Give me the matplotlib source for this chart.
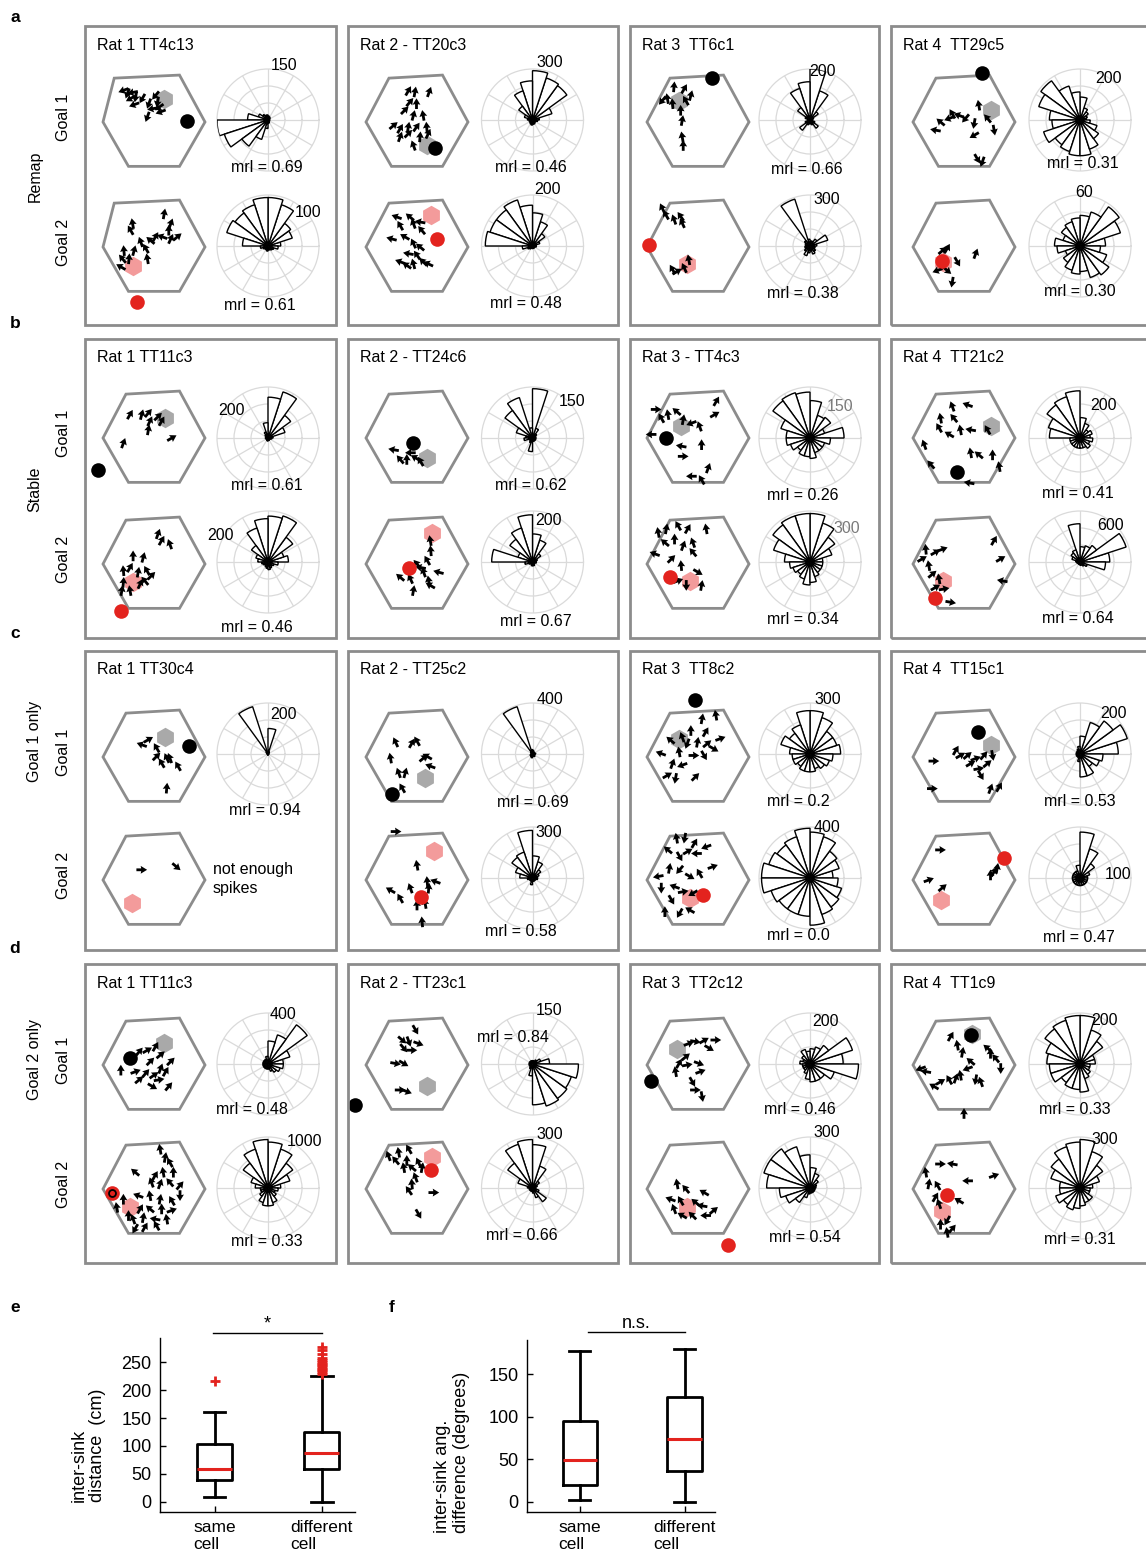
import numpy as np
import matplotlib.pyplot as plt
from matplotlib.patches import Rectangle, Polygon

plt.rcParams['font.family'] = ['Liberation Sans', 'DejaVu Sans']

W, H = 1146, 1560

# ---------------- data ----------------
row_letters = ['a', 'b', 'c', 'd']
row_names = ['Remap', 'Stable', 'Goal 1 only', 'Goal 2 only']
cell_names = [
    ['Rat 1 TT4c13', 'Rat 2 - TT20c3', 'Rat 3  TT6c1', 'Rat 4  TT29c5'],
    ['Rat 1 TT11c3', 'Rat 2 - TT24c6', 'Rat 3 - TT4c3', 'Rat 4  TT21c2'],
    ['Rat 1 TT30c4', 'Rat 2 - TT25c2', 'Rat 3  TT8c2', 'Rat 4  TT15c1'],
    ['Rat 1 TT11c3', 'Rat 2 - TT23c1', 'Rat 3  TT2c12', 'Rat 4  TT1c9'],
]
# mean resultant length, (goal 1, goal 2); None = not enough spikes
mrl = [
    [('0.69', '0.61'), ('0.46', '0.48'), ('0.66', '0.38'), ('0.31', '0.30')],
    [('0.61', '0.46'), ('0.62', '0.67'), ('0.26', '0.34'), ('0.41', '0.64')],
    [('0.94', None), ('0.69', '0.58'), ('0.2', '0.0'), ('0.53', '0.47')],
    [('0.48', '0.33'), ('0.84', '0.66'), ('0.46', '0.54'), ('0.33', '0.31')],
]
# outer ring of each rose plot (spike count)
rose_max = [
    [(150, 100), (300, 200), (200, 300), (200, 60)],
    [(200, 200), (150, 200), (150, 300), (200, 600)],
    [(200, None), (400, 300), (300, 400), (200, 100)],
    [(400, 1000), (150, 300), (200, 300), (200, 300)],
]
# heading histograms, 20 bins of 18 deg starting at 0 deg (east), counter-clockwise
roses = {
    'a1': ([5, 5, 8, 10, 12, 15, 15, 20, 30, 60, 150, 135, 95, 60, 25, 10, 8, 5, 5, 5],
           [25, 50, 55, 85, 95, 95, 85, 80, 85, 50, 15, 10, 8, 8, 10, 8, 8, 10, 12, 20]),
    'a2': ([40, 120, 250, 260, 290, 230, 180, 100, 50, 30, 20, 20, 20, 25, 30, 25, 25, 20, 20, 30],
           [15, 30, 60, 100, 130, 160, 190, 175, 175, 185, 40, 20, 15, 10, 10, 10, 10, 10, 10, 15]),
    'a3': ([10, 15, 40, 120, 200, 150, 130, 60, 20, 10, 10, 20, 50, 20, 15, 15, 20, 40, 20, 10],
           [40, 110, 50, 30, 30, 40, 290, 40, 30, 25, 30, 30, 40, 60, 40, 30, 50, 40, 30, 30]),
    'a4': ([25, 30, 40, 50, 90, 110, 140, 190, 170, 120, 110, 150, 120, 130, 140, 140, 120, 90, 70, 40],
           [30, 50, 57, 42, 36, 33, 30, 27, 21, 30, 27, 18, 24, 30, 33, 30, 39, 42, 33, 24]),
    'b1': ([20, 70, 110, 190, 160, 60, 25, 15, 10, 10, 10, 8, 8, 10, 12, 10, 10, 8, 10, 15],
           [80, 65, 120, 190, 180, 170, 140, 80, 50, 40, 25, 20, 15, 20, 25, 30, 25, 20, 25, 40]),
    'b2': ([10, 10, 15, 30, 145, 30, 125, 100, 50, 20, 25, 10, 10, 15, 40, 10, 10, 10, 10, 10],
           [15, 20, 40, 90, 110, 185, 140, 110, 60, 160, 30, 15, 10, 10, 15, 15, 15, 10, 10, 15]),
    'b3': ([100, 45, 75, 70, 110, 135, 140, 135, 90, 70, 70, 60, 45, 55, 55, 60, 45, 45, 45, 60],
           [75, 135, 180, 240, 285, 285, 285, 270, 225, 150, 120, 105, 90, 105, 135, 120, 90, 75, 75, 75]),
    'b4': ([40, 50, 40, 60, 80, 185, 170, 160, 130, 120, 40, 40, 40, 40, 40, 40, 40, 50, 40, 50],
           [350, 570, 240, 200, 180, 450, 150, 130, 100, 50, 40, 30, 30, 30, 30, 40, 40, 60, 90, 300]),
    'c1': ([3, 3, 5, 10, 100, 10, 195, 10, 5, 3, 3, 3, 3, 3, 5, 3, 3, 3, 3, 3],
           None),
    'c2': ([25, 15, 20, 20, 30, 35, 390, 20, 10, 10, 15, 20, 20, 25, 30, 20, 20, 25, 15, 20],
           [30, 40, 60, 100, 130, 280, 160, 150, 105, 75, 30, 20, 20, 20, 40, 20, 20, 20, 20, 30]),
    'c3': ([180, 165, 165, 225, 255, 255, 180, 150, 180, 120, 105, 105, 90, 105, 105, 105, 90, 105, 120, 135],
           [180, 240, 260, 340, 360, 390, 340, 320, 340, 380, 380, 320, 300, 300, 300, 370, 300, 280, 260, 220]),
    'c4': ([150, 195, 160, 130, 70, 30, 20, 15, 15, 15, 15, 15, 15, 15, 30, 90, 90, 60, 80, 90],
           [15, 20, 35, 60, 90, 25, 15, 15, 15, 15, 15, 15, 15, 15, 15, 15, 15, 15, 15, 15]),
    'd1': ([120, 180, 380, 240, 180, 60, 40, 40, 40, 40, 40, 40, 40, 40, 40, 40, 60, 80, 100, 120],
           [250, 450, 600, 800, 900, 950, 800, 600, 350, 250, 150, 150, 200, 300, 350, 350, 300, 200, 150, 200]),
    'd2': ([50, 25, 15, 10, 10, 10, 10, 10, 10, 10, 10, 10, 10, 15, 35, 120, 130, 125, 120, 135],
           [20, 30, 50, 135, 255, 285, 270, 180, 90, 30, 20, 20, 20, 20, 20, 30, 60, 100, 40, 20]),
    'd3': ([130, 175, 90, 70, 60, 50, 60, 40, 30, 40, 30, 30, 30, 40, 60, 70, 70, 70, 100, 190],
           [35, 40, 60, 90, 120, 195, 255, 285, 285, 255, 180, 150, 105, 60, 35, 30, 30, 30, 30, 30]),
    'd4': ([60, 60, 110, 140, 190, 190, 180, 170, 140, 130, 120, 120, 90, 100, 100, 110, 60, 50, 40, 40],
           [75, 120, 165, 225, 285, 270, 255, 210, 180, 120, 120, 150, 120, 135, 120, 105, 90, 90, 60, 60]),
}
# spike positions in arena units (hex radius = 1) and heading in degrees
spikes = {
    'a1': ([(-0.60, 0.62, 200), (-0.52, 0.56, 250), (-0.42, 0.58, 190), (-0.36, 0.49, 260), (-0.46, 0.46, 210),
            (-0.23, 0.46, 240), (-0.39, 0.34, 200), (-0.10, 0.36, 250), (-0.03, 0.26, 190), (0.07, 0.39, 260),
            (0.10, 0.29, 215), (-0.13, 0.10, 250), (0.13, 0.20, 200), (0.03, 0.52, 230)],
           [(0.20, 0.65, 80), (-0.42, 0.46, 100), (-0.46, 0.33, 120), (0.33, 0.46, 70), (0.29, 0.33, 90),
            (-0.26, 0.10, 110), (-0.07, 0.13, 140), (0.03, 0.20, 60), (0.16, 0.20, 160), (0.46, 0.20, 40),
            (-0.59, -0.07, 95), (-0.62, -0.23, 130), (-0.39, -0.07, 75), (-0.13, -0.23, 100), (-0.65, -0.39, 150),
            (-0.49, -0.23, 85), (-0.16, -0.03, 120), (0.33, 0.16, 65)]),
    'a2': ([(-0.17, 0.61, 60), (-0.04, 0.59, 80), (0.24, 0.59, 70), (-0.14, 0.39, 50), (-0.01, 0.36, 90),
            (-0.24, 0.23, 45), (-0.07, 0.13, 75), (0.12, 0.13, 100), (-0.46, -0.07, 40), (-0.33, -0.13, 60),
            (-0.17, -0.10, 80), (-0.01, -0.10, 55), (0.19, -0.10, 95), (-0.33, -0.29, 70), (-0.17, -0.23, 45),
            (0.06, -0.29, 85), (0.22, -0.23, 65), (-0.07, -0.46, 110)],
           [(-0.40, 0.59, 160), (-0.33, 0.42, 120), (-0.14, 0.59, 140), (-0.07, 0.46, 110), (0.06, 0.49, 170),
            (0.09, 0.33, 130), (-0.50, 0.16, 165), (-0.24, 0.20, 150), (-0.07, 0.07, 115), (0.06, 0.00, 140),
            (-0.17, -0.13, 170), (0.00, -0.16, 125), (-0.33, -0.29, 160), (-0.20, -0.36, 145), (-0.07, -0.33, 105),
            (0.12, -0.29, 135), (0.22, -0.33, 155)]),
    'a3': ([(-0.47, 0.69, 85), (-0.27, 0.65, 60), (-0.60, 0.46, 100), (-0.50, 0.36, 95), (-0.24, 0.42, 120),
            (-0.14, 0.52, 75), (-0.34, 0.23, 90), (-0.31, 0.03, 80), (-0.31, -0.29, 100), (-0.29, -0.46, 90),
            (-0.70, 0.42, 230)],
           [(-0.70, 0.76, 115), (-0.63, 0.63, 120), (-0.47, 0.54, 110), (-0.34, 0.60, 125), (-0.31, 0.47, 115),
            (-0.50, -0.44, 120), (-0.41, -0.48, 30), (-0.27, -0.41, 115), (-0.18, -0.25, 100)]),
    'a4': ([(-0.56, -0.16, 170), (-0.46, 0.00, 140), (-0.29, 0.07, 200), (-0.23, 0.16, 120), (-0.10, 0.13, 160),
            (0.03, 0.07, 230), (0.20, -0.03, 260), (0.29, 0.33, 100), (0.46, 0.07, 130), (0.59, -0.16, 280),
            (0.20, -0.26, 210), (0.26, -0.72, 300), (0.36, -0.78, 250)],
           [(-0.42, -0.07, 40), (-0.33, -0.03, 60), (-0.13, -0.29, 300), (0.23, -0.13, 70), (-0.52, -0.46, 200),
            (-0.33, -0.46, 320), (-0.23, -0.69, 260)]),
    'b1': ([(-0.47, 0.46, 60), (-0.24, 0.46, 75), (-0.11, 0.49, 50), (-0.08, 0.33, 65), (-0.11, 0.16, 80),
            (0.08, 0.42, 45), (0.15, 0.33, 60), (0.35, 0.00, 30), (-0.60, -0.10, 70)],
           [(0.08, 0.59, 70), (0.15, 0.46, 60), (0.31, 0.39, 110), (-0.41, 0.16, 90), (-0.21, 0.13, 75),
            (-0.60, -0.13, 95), (-0.47, -0.07, 60), (-0.31, -0.16, 80), (-0.14, -0.13, 120), (-0.05, -0.23, 45),
            (-0.60, -0.36, 85), (-0.47, -0.52, 100), (-0.27, -0.39, 65), (-0.63, -0.52, 80), (-0.18, -0.33, 130)]),
    'b2': ([(-0.46, -0.23, 170), (-0.33, -0.42, 130), (-0.20, -0.42, 90), (-0.03, -0.39, 150), (0.07, -0.46, 120),
            (-0.13, -0.29, 180)],
           [(0.26, 0.46, 100), (0.27, 0.26, 95), (0.20, 0.07, 120), (0.07, -0.07, 170), (0.00, 0.00, 130),
            (0.13, -0.16, 110), (0.42, -0.16, 165), (-0.33, -0.26, 140), (-0.13, -0.29, 115), (0.23, -0.33, 100),
            (-0.07, -0.52, 80), (0.26, -0.42, 150)]),
    'b3': ([(-0.82, 0.56, 0), (-0.72, 0.39, 120), (-0.59, 0.46, 100), (-0.42, 0.52, 140), (-0.29, 0.36, 80),
            (-0.13, 0.29, 200), (0.03, 0.23, 110), (0.33, 0.46, 30), (0.36, 0.72, 60), (-0.92, 0.07, 180),
            (-0.33, -0.16, 170), (0.07, -0.13, 90), (-0.29, -0.36, 0), (-0.13, -0.75, 180), (0.07, -0.82, 120),
            (0.20, -0.59, 70)],
           [(-0.78, 0.62, 100), (-0.62, 0.69, 80), (-0.39, 0.75, 120), (-0.20, 0.69, 60), (0.16, 0.69, 100),
            (-0.65, 0.42, 140), (-0.46, 0.49, 90), (-0.29, 0.36, 70), (-0.10, 0.42, 110), (-0.85, 0.20, 160),
            (-0.52, 0.10, 45), (-0.33, -0.03, 95), (-0.10, 0.23, 130), (-0.39, -0.33, 20), (-0.23, -0.42, 270),
            (0.07, -0.42, 80), (0.00, -0.16, 330)]),
    'b4': ([(-0.23, 0.62, 110), (0.07, 0.65, 160), (-0.46, 0.39, 100), (-0.20, 0.39, 130), (-0.49, 0.20, 120),
            (-0.29, 0.07, 150), (-0.07, 0.16, 100), (0.13, 0.16, 170), (0.46, 0.16, 120), (-0.78, -0.13, 110),
            (0.13, -0.29, 100), (0.29, -0.33, 140), (0.56, -0.33, 90), (-0.65, -0.52, 130), (0.69, -0.56, 100),
            (0.10, -0.88, 170)],
           [(-0.82, 0.10, 30), (-0.69, -0.03, 100), (-0.56, 0.23, 30), (-0.42, 0.29, 20), (-0.62, -0.20, 40),
            (-0.49, -0.29, 100), (-0.56, -0.46, 30), (-0.39, -0.49, 10), (-0.26, -0.75, 350), (0.59, 0.46, 60),
            (0.72, 0.10, 30), (0.75, -0.33, 170), (-0.75, 0.29, 95)]),
    'c1': ([(-0.24, 0.24, 160), (-0.11, 0.34, 30), (0.05, 0.18, 120), (0.25, -0.02, 115), (0.05, 0.01, 45),
            (0.15, -0.12, 120), (0.31, -0.02, 110), (0.47, -0.18, 120), (0.25, -0.61, 85)],
           [(-0.24, 0.20, 0), (0.44, 0.26, 320)]),
    'c2': ([(-0.42, 0.29, 115), (-0.10, 0.27, 60), (0.00, 0.31, 120), (-0.52, -0.02, 100), (0.20, 0.01, 150),
            (0.13, -0.02, 40), (0.26, -0.18, 160), (-0.36, -0.31, 110), (-0.23, -0.31, 75), (-0.29, -0.61, 120)],
           [(-0.41, 0.95, 0), (0.00, 0.29, 100), (-0.52, -0.20, 150), (-0.33, -0.36, 120), (0.20, -0.03, 95),
            (0.36, -0.03, 160), (0.23, -0.16, 85), (0.16, -0.46, 100), (0.00, -0.49, 90), (0.10, -0.82, 95),
            (-0.13, -0.16, 110)]),
    'c3': ([(0.08, 0.75, 80), (0.35, 0.82, 100), (-0.14, 0.52, 90), (0.15, 0.49, 60), (0.44, 0.36, 20),
            (-0.54, 0.33, 140), (-0.31, 0.39, 110), (-0.21, 0.26, 250), (-0.01, 0.29, 80), (0.18, 0.26, 40),
            (-0.73, 0.07, 160), (-0.37, 0.10, 100), (-0.08, 0.03, 0), (0.12, 0.03, 300), (-0.50, -0.13, 70),
            (-0.31, -0.16, 200), (-0.60, -0.36, 30), (-0.44, -0.42, 260), (-0.05, -0.39, 45), (0.31, 0.16, 330)],
           [(-0.42, 0.82, 100), (-0.26, 0.82, 260), (-0.07, 0.72, 60), (0.16, 0.65, 200), (-0.59, 0.59, 140),
            (-0.36, 0.46, 300), (-0.20, 0.56, 30), (-0.03, 0.52, 180), (0.29, 0.26, 20), (-0.78, 0.07, 190),
            (-0.56, 0.23, 80), (-0.36, 0.20, 230), (-0.16, 0.07, 330), (0.03, 0.13, 120), (-0.72, -0.16, 270),
            (-0.46, -0.13, 160), (-0.29, -0.23, 10), (-0.10, -0.26, 210), (-0.65, -0.62, 90), (-0.36, -0.65, 240),
            (-0.16, -0.59, 150), (-0.52, -0.39, 300)]),
    'c4': ([(-0.59, -0.08, 0), (-0.16, 0.13, 60), (-0.07, 0.03, 30), (0.07, 0.03, 40), (0.23, -0.03, 20),
            (0.39, 0.03, 50), (0.56, 0.03, 280), (0.13, -0.13, 30), (0.29, -0.23, 10), (0.33, -0.36, 300),
            (0.46, -0.13, 40), (-0.62, -0.62, 0), (0.52, -0.62, 70), (0.69, -0.59, 60)],
           [(-0.46, 0.59, 0), (-0.69, 0.00, 20), (-0.42, -0.15, 40), (0.52, 0.10, 90), (0.65, 0.23, 80),
            (0.59, 0.16, 60)]),
    'd1': ([(-0.29, 0.26, 50), (-0.13, 0.29, 30), (0.03, 0.36, 60), (0.13, 0.20, 40), (-0.07, 0.07, 45),
            (0.13, -0.07, 70), (-0.36, -0.13, 20), (-0.16, -0.16, 50), (0.00, -0.20, 35), (0.23, -0.13, 60),
            (-0.29, -0.29, 40), (0.10, -0.29, 10), (0.29, -0.42, 50), (-0.65, -0.10, 90), (-0.03, -0.42, 330),
            (0.33, 0.07, 45)],
           [(0.12, 0.78, 100), (0.22, 0.62, 80), (0.31, 0.52, 120), (-0.37, 0.33, 140), (0.02, 0.26, 60),
            (0.18, 0.33, 100), (0.38, 0.33, 90), (-0.05, 0.13, 110), (0.12, 0.10, 70), (0.31, 0.13, 130),
            (0.51, 0.07, 50), (-0.60, -0.20, 90), (-0.31, -0.13, 160), (-0.08, -0.13, 100), (0.12, -0.20, 80),
            (0.35, -0.23, 120), (0.51, -0.13, 270), (-0.73, -0.36, 100), (-0.27, -0.39, 60), (-0.08, -0.39, 140),
            (0.15, -0.39, 90), (0.35, -0.42, 20), (-0.41, -0.59, 110), (-0.21, -0.56, 80), (0.02, -0.59, 170),
            (0.25, -0.59, 100), (-0.37, -0.78, 240), (-0.18, -0.75, 60), (0.05, -0.72, 120), (-0.50, -0.52, 90)]),
    'd2': ([(-0.03, 0.69, 300), (-0.29, 0.49, 320), (-0.16, 0.46, 290), (0.03, 0.42, 340), (-0.26, 0.33, 310),
            (-0.10, 0.29, 0), (-0.42, 0.03, 350), (-0.26, 0.03, 330), (-0.33, -0.49, 0), (-0.20, -0.52, 340)],
           [(-0.56, 0.65, 110), (-0.36, 0.72, 100), (-0.16, 0.78, 120), (-0.42, 0.56, 130), (-0.20, 0.56, 90),
            (0.03, 0.52, 115), (-0.26, 0.42, 100), (-0.10, 0.42, 140), (0.10, 0.42, 80), (-0.03, 0.23, 110),
            (-0.10, 0.10, 95), (-0.16, -0.03, 125), (0.33, -0.07, 0), (0.03, -0.49, 300)]),
    'd3': ([(-0.18, 0.42, 20), (-0.05, 0.46, 350), (0.12, 0.48, 30), (0.35, 0.49, 0), (0.22, 0.33, 330),
            (-0.37, 0.03, 60), (-0.21, 0.00, 10), (-0.44, -0.13, 100), (0.02, 0.03, 340), (0.05, -0.13, 20),
            (-0.11, -0.33, 300), (-0.05, -0.49, 0), (0.08, -0.62, 280), (-0.24, 0.16, 40)],
           [(-0.41, 0.10, 100), (-0.24, 0.00, 130), (0.12, -0.07, 150), (-0.54, -0.20, 160), (-0.34, -0.23, 120),
            (-0.05, -0.26, 140), (0.08, -0.33, 170), (-0.47, -0.39, 110), (-0.31, -0.52, 150), (-0.11, -0.52, 135),
            (0.31, -0.42, 40), (0.15, -0.52, 180)]),
    'd4': ([(-0.26, 0.56, 60), (-0.13, 0.39, 100), (-0.03, 0.25, 80), (-0.85, -0.07, 200), (-0.75, -0.13, 170),
            (-0.59, -0.42, 150), (-0.46, -0.33, 30), (-0.29, -0.29, 120), (-0.16, -0.26, 70), (-0.07, -0.20, 100),
            (0.07, -0.07, 200), (0.13, 0.07, 140), (0.23, -0.29, 260), (0.33, -0.33, 110), (0.46, 0.33, 140),
            (0.52, 0.23, 90), (0.62, 0.13, 130), (0.72, -0.07, 270), (0.00, -0.95, 90)],
           [(-0.75, 0.33, 100), (-0.46, 0.49, 0), (-0.23, 0.49, 170), (-0.69, 0.10, 80), (-0.52, 0.07, 120),
            (-0.56, -0.16, 60), (-0.49, -0.29, 110), (-0.10, -0.23, 150), (0.07, 0.16, 180), (0.59, 0.26, 20),
            (-0.46, -0.69, 90), (-0.33, -0.62, 240), (-0.23, -0.78, 50), (-0.33, -0.85, 100)]),
}
# sink (dot) and goal (hexagon) locations, arena units
sink1 = {'a1': (0.64, 0.01), 'a2': (0.35, -0.51), 'a3': (0.28, 0.87), 'a4': (0.36, 0.97),
         'b1': (-1.09, -0.62), 'b2': (-0.07, -0.10), 'b3': (-0.62, 0.00), 'b4': (-0.13, -0.67),
         'c1': (0.69, 0.21), 'c2': (-0.49, -0.72), 'c3': (-0.05, 1.12), 'c4': (0.27, 0.49),
         'd1': (-0.47, 0.13), 'd2': (-1.21, -0.78), 'd3': (-0.93, -0.31), 'd4': (0.13, 0.58)}
goal1 = {'a1': (0.20, 0.46), 'a2': (0.19, -0.46), 'a3': (-0.37, 0.42), 'a4': (0.52, 0.23),
         'b1': (0.22, 0.39), 'b2': (0.20, -0.39), 'b3': (-0.33, 0.23), 'b4': (0.52, 0.23),
         'c1': (0.22, 0.39), 'c2': (0.16, -0.41), 'c3': (-0.37, 0.36), 'c4': (0.52, 0.23),
         'd1': (0.20, 0.44), 'd2': (0.20, -0.42), 'd3': (-0.41, 0.31), 'd4': (0.15, 0.60)}
sink2 = {'a1': (-0.34, -1.08), 'a2': (0.40, 0.15), 'a3': (-0.96, 0.03), 'a4': (-0.44, -0.27),
         'b1': (-0.65, -0.93), 'b2': (-0.16, -0.08), 'b3': (-0.54, -0.26), 'b4': (-0.56, -0.67),
         'c1': None, 'c2': (0.07, -0.33), 'c3': (0.10, -0.29), 'c4': (0.78, 0.44),
         'd1': (-0.83, -0.07), 'd2': (0.28, 0.38), 'd3': (0.59, -1.10), 'd4': (-0.33, -0.11)}
goal2 = {'a1': (-0.42, -0.38), 'a2': (0.27, 0.62), 'a3': (-0.21, -0.33), 'a4': (-0.42, -0.30),
         'b1': (-0.41, -0.36), 'b2': (0.29, 0.61), 'b3': (-0.16, -0.33), 'b4': (-0.42, -0.33),
         'c1': (-0.44, -0.46), 'c2': (0.33, 0.56), 'c3': (-0.16, -0.36), 'c4': (-0.46, -0.39),
         'd1': (-0.47, -0.36), 'd2': (0.29, 0.63), 'd3': (-0.21, -0.36), 'd4': (-0.44, -0.44)}

# panels e / f: box plot summaries
box_labels = ['same\ncell', 'different\ncell']
dist_same = dict(whislo=8, q1=40, med=58, q3=103, whishi=160, fliers=[217])
dist_diff = dict(whislo=0, q1=58, med=88, q3=125, whishi=225,
                 fliers=[229, 232, 235, 238, 241, 244, 247, 250, 253, 258, 265, 272, 277])
ang_same = dict(whislo=2, q1=20, med=49, q3=95, whishi=177, fliers=[])
ang_diff = dict(whislo=0, q1=36, med=74, q3=123, whishi=180, fliers=[])

# ---------------- layout (pixels) ----------------
PANEL_X = [85, 348, 630, 891]
PANEL_W = [251, 270, 249, 262]
PANEL_Y = [26, 339, 651, 964]
PANEL_H = 299
HEX_CX = [69, 69, 68, 73]
HEX_CY = [(96, 221), (99, 225), (106, 229), (101, 225)]
ROSE_CX = [183, 184.5, 180, 189]
ROSE_CY = [(94, 220), (99, 223), (103, 227), (100, 224)]
R_HEX = 51
HALF = 74
R_ROSE = 51
LETTER_Y = [18, 324, 633, 949]
OUTER_LABEL_Y = [150, 150, 90, 96]

# rose count label placement (angle deg, fraction of outer ring)
rose_label_pos = {
    'a1': ((73, 1.11), (40, 1.03)), 'a2': ((73, 1.18), (75, 1.15)), 'a3': ((75, 0.98), (70, 0.97)),
    'a4': ((56, 0.99), (86, 1.05)), 'b1': ((143, 0.89), (151, 1.07)), 'b2': ((43, 1.06), (69, 0.88)),
    'b3': ((46, 0.85), (42, 0.97)), 'b4': ((54, 0.78), (50, 0.94)), 'c1': ((69, 0.84), None),
    'c2': ((72, 1.13), (70, 0.94)), 'c3': ((72, 1.13), (71, 1.04)), 'c4': ((50, 1.03), (6, 0.75)),
    'd1': ((73, 1.02), (52, 1.16)), 'd2': ((73, 1.10), (72, 1.11)), 'd3': ((70, 0.89), (73, 1.13)),
    'd4': ((60, 0.98), (63, 1.07)),
}
# mrl text offset from rose centre (px)
mrl_offset = {
    'a1': ((-1, 48), (-8, 59)), 'a2': ((-2, 48), (-7, 57)), 'a3': ((-3, 49), (-7, 48)), 'a4': ((3, 43), (0, 46)),
    'b1': ((-1, 48), (-11, 65)), 'b2': ((-2, 48), (3, 60)), 'b3': ((-7, 57), (-7, 58)), 'b4': ((-2, 56), (-2, 57)),
    'c1': ((-3, 56), None), 'c2': ((0, 49), (-12, 53)), 'c3': ((-12, 48), (-12, 57)), 'c4': ((0, 48), (-1, 60)),
    'd1': ((-16, 45), (-1, 53)), 'd2': ((-20, -26), (-11, 48)), 'd3': ((-10, 46), (-5, 49)), 'd4': ((-5, 46), (0, 52)),
}

EDGE = '#8c8c8c'
GRID = '#dadada'
RED = '#e3231e'
PINK = '#f39b9b'
GREY_GOAL = '#a9a9a9'
FS = 11.5

fig = plt.figure(figsize=(W / 100, H / 100), dpi=100)


def fx(x):
    return x / W


def fy(y):
    return 1 - y / H


def ax_at(cx, cy, half, **kw):
    return fig.add_axes([fx(cx - half), fy(cy + half), 2 * half / W, 2 * half / H], **kw)


def hex_shape(key):
    tl = -0.78 if key == 'a1' else -0.55
    return [(-1.0, 0.0), (tl, 0.86), (0.5, 0.92), (1.0, 0.0), (0.5, -0.87), (-0.5, -0.87)]


lim = HALF / R_HEX
for r in range(4):
    fig.text(fx(15), fy(LETTER_Y[r]), row_letters[r], fontsize=12.5, fontweight='bold', ha='center', va='center')
    fig.text(fx(35), fy(PANEL_Y[r] + OUTER_LABEL_Y[r]), row_names[r], rotation=90, fontsize=FS,
             ha='center', va='center')
    for g in range(2):
        fig.text(fx(64), fy(PANEL_Y[r] + HEX_CY[r][g] - 5), f'Goal {g + 1}', rotation=90, fontsize=FS,
                 ha='center', va='center')

    for c in range(4):
        key = f'{row_letters[r]}{c + 1}'
        x0, y0 = PANEL_X[c], PANEL_Y[r]
        fig.add_artist(Rectangle((fx(x0), fy(y0 + PANEL_H)), PANEL_W[c] / W, PANEL_H / H,
                                 transform=fig.transFigure, fill=False, ec=EDGE, lw=2))
        fig.text(fx(x0 + 12), fy(y0 + 19), cell_names[r][c], fontsize=FS, ha='left', va='center')

        for g in range(2):
            # arena with spikes
            ax = ax_at(x0 + HEX_CX[c], y0 + HEX_CY[r][g], HALF)
            ax.set_xlim(-lim, lim)
            ax.set_ylim(-lim, lim)
            ax.axis('off')
            ax.add_patch(Polygon(hex_shape(key), closed=True, fill=False, ec=EDGE, lw=2, zorder=1))
            if g == 0:
                gp, gc, sp, sc = goal1[key], GREY_GOAL, sink1[key], 'black'
            else:
                gp, gc, sp, sc = goal2[key], PINK, sink2[key], RED
            ax.plot(gp[0], gp[1], marker='h', ms=14, color=gc, mec='none', zorder=2, clip_on=False)
            pts = np.array(spikes[key][g], dtype=float)
            ang = np.deg2rad(pts[:, 2])
            L = 0.21
            ax.quiver(pts[:, 0], pts[:, 1], L * np.cos(ang), L * np.sin(ang), angles='xy',
                      scale_units='xy', scale=1, units='xy', width=0.055, headwidth=2.8,
                      headlength=2.3, headaxislength=2.1, pivot='middle', color='black', zorder=3)
            if sp is not None:
                ax.plot(sp[0], sp[1], marker='o', ms=10.5, color=sc, mec='none', zorder=4, clip_on=False)
                if key == 'd1' and g == 1:
                    ax.plot(sp[0], sp[1], marker='o', ms=5, mfc='none', mec='black', mew=1.3, zorder=5)

            # heading rose
            rm = rose_max[r][c][g]
            rx, ry = x0 + ROSE_CX[c], y0 + ROSE_CY[r][g]
            if rm is None:
                fig.text(fx(x0 + 128), fy(y0 + 228), 'not enough\nspikes', fontsize=FS, ha='left',
                         va='center', linespacing=1.3)
                continue
            pax = ax_at(rx, ry, R_ROSE, projection='polar')
            counts = np.array(roses[key][g], dtype=float)
            nb = len(counts)
            th = np.deg2rad(np.arange(nb) * 360 / nb + 180 / nb)
            pax.set_axisbelow(True)
            pax.bar(th, counts, width=2 * np.pi / nb, bottom=0, color='white', edgecolor='black',
                    lw=1, zorder=3)
            pax.set_ylim(0, rm)
            pax.set_yticks([rm / 3, 2 * rm / 3])
            pax.set_yticklabels([])
            pax.set_xticks(np.deg2rad(np.arange(0, 360, 30)))
            pax.set_xticklabels([])
            pax.grid(True, color=GRID, lw=0.9)
            pax.spines['polar'].set_color(GRID)
            pax.spines['polar'].set_linewidth(0.9)
            pax.set_facecolor('none')
            la, lr = rose_label_pos[key][g]
            pax.text(np.deg2rad(la), lr * rm, str(rm), fontsize=FS, ha='center', va='center',
                     color='#7a7a7a' if key == 'b3' else 'black', zorder=6)
            dx, dy = mrl_offset[key][g]
            fig.text(fx(rx + dx), fy(ry + dy), f'mrl = {mrl[r][c][g]}', fontsize=FS, ha='center', va='center')

# ---------------- e / f box plots ----------------
box_font = ['Liberation Sans Narrow', 'Liberation Sans', 'DejaVu Sans']
fig.text(fx(15), fy(1308), 'e', fontsize=12.5, fontweight='bold', ha='center', va='center')
fig.text(fx(392), fy(1308), 'f', fontsize=12.5, fontweight='bold', ha='center', va='center')


def box_panel(rect, stats, ylim, yticks, xlim, ylabel, ylab_xy, sig, sig_y, sig_x0):
    ax = fig.add_axes(rect)
    for s, lab in zip(stats, box_labels):
        s['label'] = lab
    ax.bxp(stats, positions=[1, 2], widths=0.33, capwidths=0.2, showfliers=True,
           boxprops=dict(color='black', lw=2), medianprops=dict(color=RED, lw=2.2),
           whiskerprops=dict(color='black', lw=2), capprops=dict(color='black', lw=2),
           flierprops=dict(marker='+', markeredgecolor=RED, markersize=7, mew=2))
    ax.set_xlim(*xlim)
    ax.set_ylim(*ylim)
    ax.set_yticks(yticks)
    ax.spines['top'].set_visible(False)
    ax.spines['right'].set_visible(False)
    for sp in ax.spines.values():
        sp.set_linewidth(1)
    ax.tick_params(direction='in', length=4, width=1, labelsize=13, pad=6)
    ax.tick_params(axis='x', labelsize=12.5, pad=6)
    for t in ax.get_yticklabels() + ax.get_xticklabels():
        t.set_family(box_font)
    for t in ax.get_xticklabels():
        t.set_multialignment('left')
        t.set_linespacing(1.15)
    ax.plot([sig_x0, 2.0], [sig_y, sig_y], color='black', lw=1, clip_on=False)
    ax.text((sig_x0 + 2.0) / 2, sig_y, sig, ha='center', va='bottom', fontsize=13, family=box_font)
    fig.text(fx(ylab_xy[0]), fy(ylab_xy[1]), ylabel, rotation=90, ha='center', va='center',
             multialignment='left', fontsize=13, family=box_font, linespacing=1.1)
    return ax


box_panel([fx(160), fy(1512), 195 / W, 174 / H], [dist_same, dist_diff], (-18, 293),
          [0, 50, 100, 150, 200, 250], (0.49, 2.31), 'inter-sink\ndistance  (cm)', (88, 1445),
          '*', 302, 0.98)
box_panel([fx(527), fy(1512), 188 / W, 172 / H], [ang_same, ang_diff], (-12, 190),
          [0, 50, 100, 150], (0.495, 2.29), 'inter-sink ang.\ndifference (degrees)', (452, 1452),
          'n.s.', 199, 1.08)

fig.savefig('out.png', dpi=100)
